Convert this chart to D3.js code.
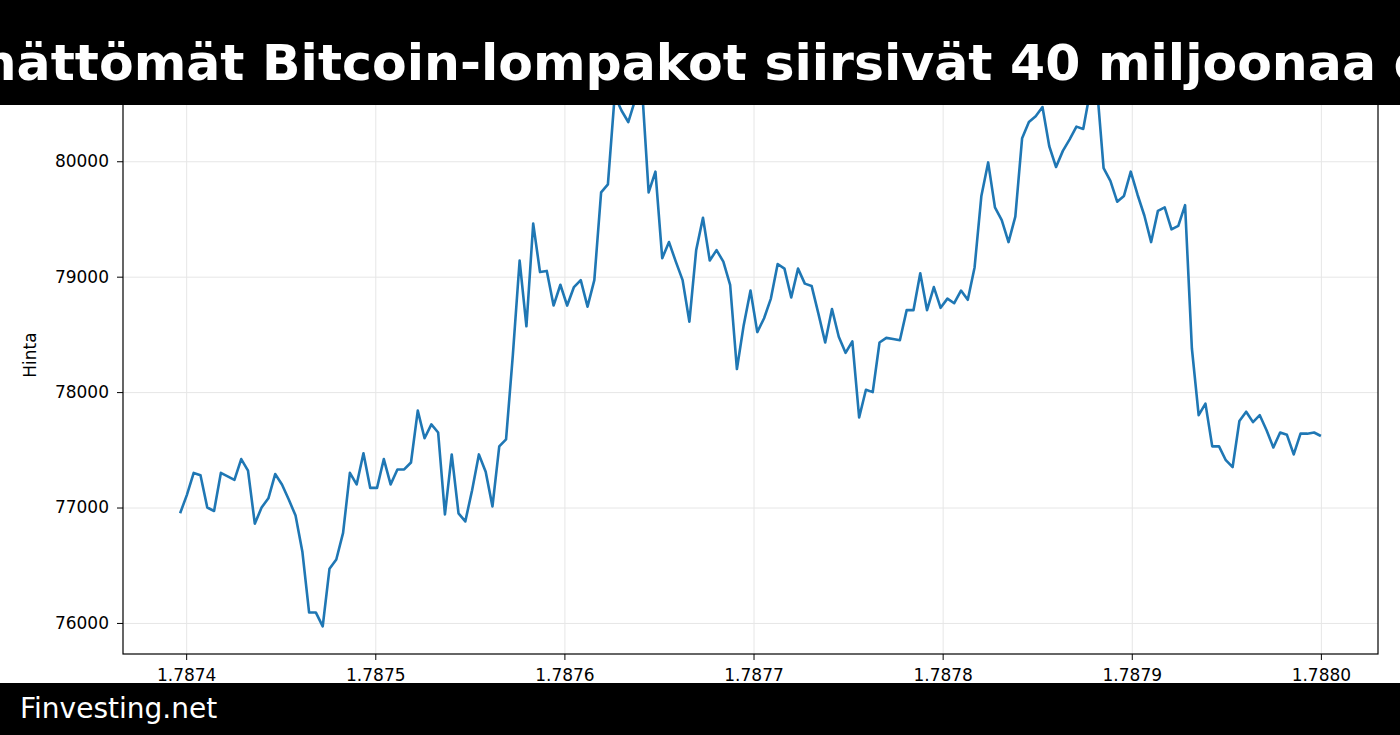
<!DOCTYPE html>
<html><head><meta charset="utf-8">
<script src="https://cdn.jsdelivr.net/npm/d3@7"></script>
<style>body{margin:0;background:#fff}svg{display:block}text{font-family:"DejaVu Sans",sans-serif}</style>
</head><body>
<svg id="c" width="1400" height="735"></svg>
<script>
const titleText = "mättömät Bitcoin-lompakot siirsivät 40 miljoonaa dollaria";
const footerText = "Finvesting.net";
const yLabel = "Hinta";
const xStart = 1.7873968, xEnd = 1.7880;
const xTicks = [1.7874,1.7875,1.7876,1.7877,1.7878,1.7879,1.7880];
const yTicks = [76000,77000,78000,79000,80000];
const prices = [76950,77110,77300,77280,77000,76970,77300,77270,77240,77420,77320,76860,77000,77080,77290,77200,77070,76930,76620,76090,76090,75970,76470,76550,76780,77300,77200,77470,77170,77170,77420,77200,77330,77330,77390,77840,77600,77720,77650,76940,77460,76950,76880,77150,77460,77310,77010,77530,77590,78320,79140,78570,79460,79040,79050,78750,78930,78750,78910,78970,78740,78970,79730,79800,80570,80440,80340,80530,80660,79730,79910,79160,79300,79130,78970,78610,79230,79510,79140,79230,79130,78930,78200,78580,78880,78520,78640,78810,79110,79070,78820,79070,78940,78920,78680,78430,78720,78480,78340,78440,77780,78020,78000,78430,78470,78460,78450,78710,78710,79030,78710,78910,78730,78810,78770,78880,78800,79080,79700,79990,79600,79490,79300,79520,80200,80340,80390,80470,80130,79950,80090,80190,80300,80280,80600,80660,79940,79830,79650,79700,79910,79710,79530,79300,79570,79600,79410,79440,79620,78380,77800,77900,77530,77530,77410,77350,77750,77830,77740,77800,77670,77520,77650,77630,77460,77640,77640,77650,77620];
const n = prices.length;
const data = prices.map((v,i)=>({x: xStart + (xEnd-xStart)*i/(n-1), y: v}));

const svg = d3.select("#c");
const L=123, R=1378, T=65, B=654;
const x = d3.scaleLinear().domain([1.7873666, 1.7880302]).range([L,R]);
const y = d3.scaleLinear().domain([75731, 80834]).range([B,T]);

const g = svg.append("g");
g.append("g").attr("transform",`translate(0,${B})`).call(d3.axisBottom(x).tickValues(xTicks).tickSize(-(B-T)))
  .call(a=>{a.select(".domain").remove();a.selectAll("line").attr("stroke","#e6e6e6");a.selectAll("text").remove();});
g.append("g").attr("transform",`translate(${L},0)`).call(d3.axisLeft(y).tickValues(yTicks).tickSize(-(R-L)))
  .call(a=>{a.select(".domain").remove();a.selectAll("line").attr("stroke","#e6e6e6");a.selectAll("text").remove();});
g.append("path").datum(data).attr("fill","none").attr("stroke","#1f77b4").attr("stroke-width",2.6).attr("stroke-linejoin","round")
  .attr("d", d3.line().x(d=>x(d.x)).y(d=>y(d.y)));
g.append("rect").attr("x",L).attr("y",T).attr("width",R-L).attr("height",B-T).attr("fill","none").attr("stroke","#000").attr("stroke-width",1.2);
g.append("g").attr("transform",`translate(0,${B})`).call(d3.axisBottom(x).tickValues(xTicks).tickFormat(d3.format(".4f")).tickSize(6).tickPadding(9))
  .call(a=>{a.select(".domain").remove();a.selectAll("text").attr("font-size",17).attr("fill","#000").attr("font-family","DejaVu Sans");});
g.append("g").attr("transform",`translate(${L},0)`).call(d3.axisLeft(y).tickValues(yTicks).tickFormat(d3.format("d")).tickSize(6).tickPadding(8))
  .call(a=>{a.select(".domain").remove();a.selectAll("text").attr("font-size",17).attr("fill","#000").attr("font-family","DejaVu Sans");});
svg.append("text").attr("transform","translate(36,355) rotate(-90)").attr("text-anchor","middle").attr("font-size",17).text(yLabel);

svg.append("rect").attr("x",0).attr("y",0).attr("width",1400).attr("height",105).attr("fill","#000");
svg.append("text").attr("x",-36).attr("y",80).attr("fill","#fff").attr("font-size",50.5).attr("font-weight","bold").text(titleText);

svg.append("rect").attr("x",0).attr("y",683).attr("width",1400).attr("height",52).attr("fill","#000");
svg.append("text").attr("x",20).attr("y",718).attr("fill","#fff").attr("font-size",28).text(footerText);
</script>
</body></html>
